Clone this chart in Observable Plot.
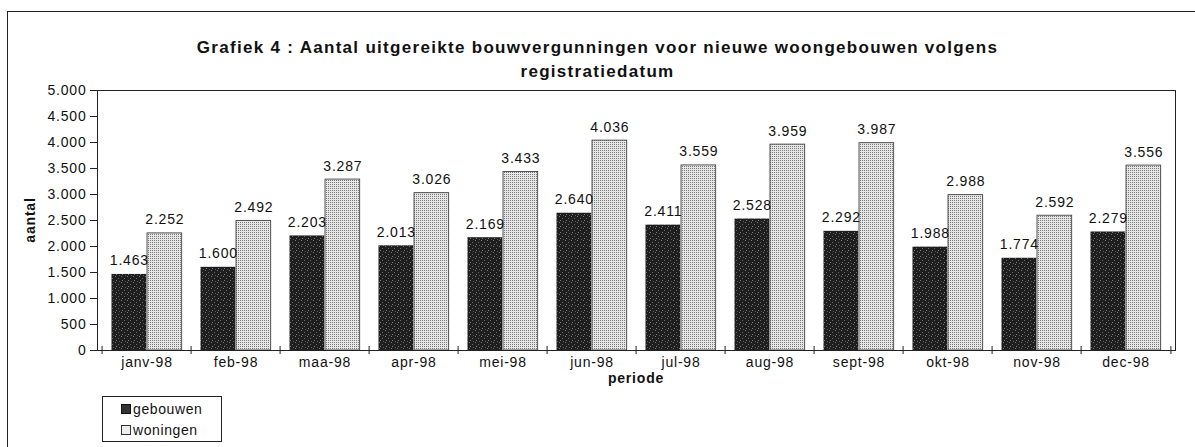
<!DOCTYPE html>
<html><head><meta charset="utf-8">
<script src="https://cdn.jsdelivr.net/npm/d3@7"></script>
<script src="https://cdn.jsdelivr.net/npm/@observablehq/plot@0.6"></script>
<style>
body{margin:0;background:#fff;font-family:"Liberation Sans",Arial,sans-serif;color:#111}
#wrap{position:relative;width:1195px;height:447px;overflow:hidden}
#border{position:absolute;left:7px;top:11px;width:1400px;height:600px;border-left:1px solid #222;border-top:1px solid #222}
#chart{position:absolute;left:0;top:0}
#title{position:absolute;left:0;width:1195px;top:36px;text-align:center;font-weight:bold;font-size:17px;letter-spacing:1.3px;line-height:24px}
#ylab{position:absolute;left:30px;top:220px;transform:translate(-50%,-50%) rotate(-90deg);font-weight:bold;font-size:14px;letter-spacing:0.8px}
#xlab{position:absolute;left:636px;top:378px;transform:translate(-50%,-50%);font-weight:bold;font-size:14px;letter-spacing:0.8px}
#legend{position:absolute;left:102px;top:396px;width:118px;height:44px;border:1px solid #222;font-size:14px;letter-spacing:0.6px}
.lr{position:absolute;left:18px;display:flex;align-items:center;gap:2px}
.sw{display:inline-block;width:9px;height:9px}
</style></head>
<body>
<svg width="0" height="0" style="position:absolute">
<defs>
<pattern id="patGeb" width="6" height="6" patternUnits="userSpaceOnUse">
<rect width="6" height="6" fill="#1e1e1e"/>
<rect x="1" y="0" width="1" height="1" fill="#777"/>
<rect x="4" y="2" width="1" height="1" fill="#6a6a6a"/>
<rect x="2" y="4" width="1" height="1" fill="#808080"/>
<rect x="5" y="5" width="1" height="1" fill="#5a5a5a"/>
</pattern>
<pattern id="patWon" width="2" height="2" patternUnits="userSpaceOnUse">
<rect width="2" height="2" fill="#e6e6e6"/>
<rect x="0" y="0" width="1" height="1" fill="#7a7a7a"/>
</pattern>
</defs>
</svg>
<div id="wrap">
<div id="border"></div>
<div id="chart"></div>
<div id="title">Grafiek 4 : Aantal uitgereikte bouwvergunningen voor nieuwe woongebouwen volgens<br>registratiedatum</div>
<div id="ylab">aantal</div>
<div id="xlab">periode</div>
<div id="legend">
<div class="lr" style="top:4px"><span class="sw" style="background:#333;border:1px solid #111;width:8px;height:8px"></span><span>gebouwen</span></div>
<div class="lr" style="top:25px"><span class="sw" style="background:#eee;border:1px solid #333;width:8px;height:8px"></span><span>woningen</span></div>
</div>
</div>
<script>
const months = ["janv-98","feb-98","maa-98","apr-98","mei-98","jun-98","jul-98","aug-98","sept-98","okt-98","nov-98","dec-98"];
const gebouwen = [1463,1600,2203,2013,2169,2640,2411,2528,2292,1988,1774,2279];
const woningen = [2252,2492,3287,3026,3433,4036,3559,3959,3987,2988,2592,3556];
const yTicks = [0,500,1000,1500,2000,2500,3000,3500,4000,4500,5000];

const nl = d3.formatLocale({decimal:",", thousands:".", grouping:[3], currency:["€",""]});
const fmt = nl.format(",d");

const W = 1195, H = 447, ml = 97, mr = 20, mt = 90, mb = 97;
const bw = (W - ml - mr) / months.length;
const pad = 9.5, barW = 35.5;

const dGeb = months.map((m,i)=>({month:m, value:gebouwen[i]}));
const dWon = months.map((m,i)=>({month:m, value:woningen[i]}));

const plot = Plot.plot({
  width: W, height: H,
  marginLeft: ml, marginRight: mr, marginTop: mt, marginBottom: mb,
  style: {fontFamily: '"Liberation Sans", Arial, sans-serif', fontSize: "14px", letterSpacing: "0.8px", color: "#111", background: "transparent"},
  x: {domain: months, padding: 0, label: null},
  y: {domain: [0, 5000], label: null},
  marks: [
    Plot.barY(dGeb, {x: "month", y: "value", fill: "url(#patGeb)", insetLeft: pad, insetRight: bw - pad - barW}),
    Plot.barY(dWon, {x: "month", y: "value", fill: "url(#patWon)", stroke: "#444", strokeWidth: 0.9, insetLeft: pad + barW, insetRight: bw - pad - 2*barW}),
    Plot.text(dGeb, {x: "month", y: "value", text: d => fmt(d.value), dx: -bw/2 + pad + barW/2, dy: -9, lineAnchor: "bottom", fontSize: 14, fill: "#111"}),
    Plot.text(dWon, {x: "month", y: "value", text: d => fmt(d.value), dx: -bw/2 + pad + barW*1.5, dy: -9, lineAnchor: "bottom", fontSize: 14, fill: "#111"}),
    Plot.frame({stroke: "#222", strokeWidth: 1}),
    Plot.ruleX(months, {x: d => d, dx: -bw/2, insetTop: H - mt - mb - 4, insetBottom: -4, stroke: "#222"}),
    Plot.ruleX(months.slice(-1), {x: d => d, dx: bw/2, insetTop: H - mt - mb - 4, insetBottom: -4, stroke: "#222"}),
    Plot.axisY({ticks: yTicks, tickFormat: fmt, tickSize: 7, tickPadding: 4, fontSize: 14, label: null, stroke: "#222"}),
    Plot.axisX({tickSize: 0, tickPadding: 7, fontSize: 14, label: null})
  ]
});
document.getElementById("chart").appendChild(plot);
</script>
</body></html>
